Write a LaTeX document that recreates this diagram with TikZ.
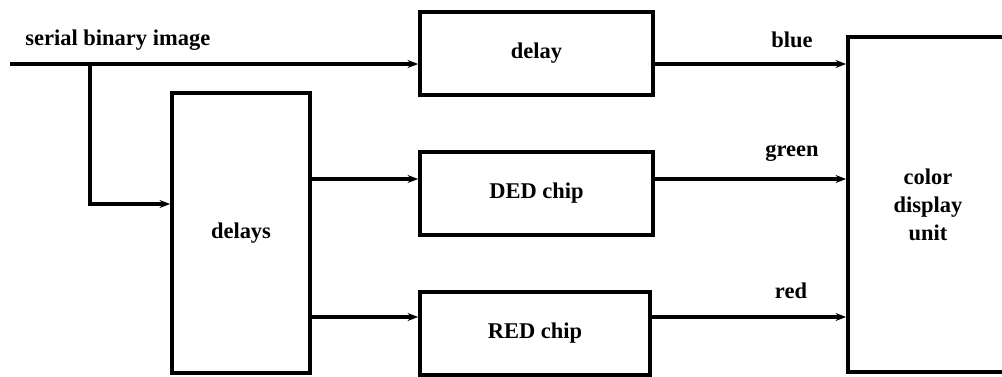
\documentclass[tikz,border=0pt]{standalone}
\usepackage{fontspec}
\setmainfont{Liberation Serif}
\usetikzlibrary{positioning,arrows.meta,calc}

\begin{document}
\begin{tikzpicture}[
  x=0.02cm, y=-0.02cm,
  block/.style={draw, line width=2.1pt, inner sep=0pt, font=\fontsize{12.8}{16}\selectfont\bfseries, align=center},
  wire/.style={line width=2.1pt},
  arr/.style={line width=2.1pt, -{Stealth[length=6pt,width=4.5pt]}},
  lbl/.style={font=\fontsize{12.8}{16}\selectfont\bfseries, inner sep=0pt}
]
\useasboundingbox (0,0) rectangle (1002,376);
\clip (0,0) rectangle (1002,376);
% blocks
\node[block, minimum width=4.66cm, minimum height=1.66cm] (delay) at (536.5,53.5) {delay};
\node[block, minimum width=4.66cm, minimum height=1.66cm] (ded) at (536.5,193.5) {DED chip};
\node[block, minimum width=4.6cm, minimum height=1.66cm] (red) at (535,333.5) {RED chip};
\node[block, minimum width=2.76cm, minimum height=5.6cm] (delays) at (241,233) {delays};
\node[block, minimum width=3.2cm, minimum height=6.7cm] (cdu) at (928,204.5) {color\\display\\unit};
% row levels
\coordinate (in) at (10,64);
\coordinate (split) at (90,64);
\coordinate (rowD) at (0,204);
\coordinate (rowG) at (0,179);
\coordinate (rowR) at (0,317);
% input and branch
\draw[arr] (in) -- (in -| delay.west);
\draw[arr] (split) |- (delays.west |- rowD);
% delays to chips
\draw[arr] (delays.east |- rowG) -- (ded.west |- rowG);
\draw[arr] (delays.east |- rowR) -- (red.west |- rowR);
% outputs to display
\draw[arr] (delay.east |- in) -- (cdu.west |- in);
\draw[arr] (ded.east |- rowG) -- (cdu.west |- rowG);
\draw[arr] (red.east |- rowR) -- (cdu.west |- rowR);
% labels
\node[lbl, anchor=west] (sbi) at (25,40) {serial binary image};
\node[lbl] (lblue) at (792,40) {blue};
\node[lbl] (lgreen) at (792,153) {green};
\node[lbl] (lred) at (791,291) {red};
\end{tikzpicture}
\end{document}
